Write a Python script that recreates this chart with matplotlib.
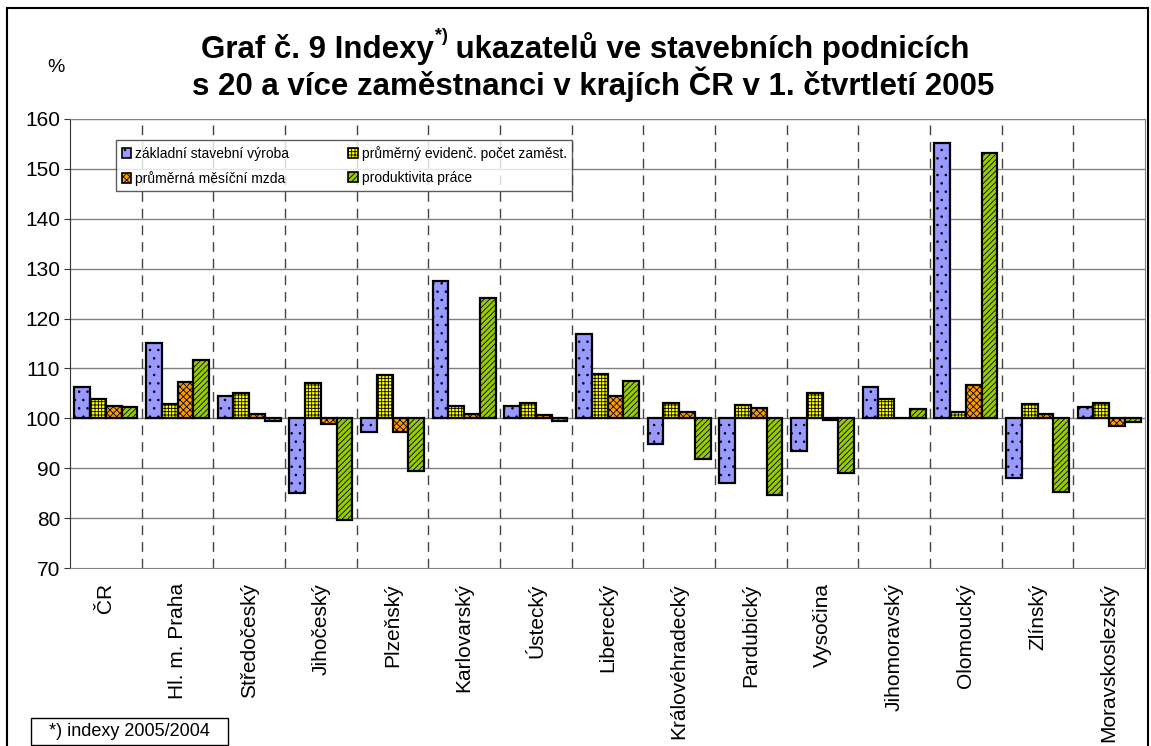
import numpy as np
import matplotlib
matplotlib.use("Agg")
from matplotlib import pyplot as plt
from matplotlib.patches import Rectangle, Patch

plt.rcParams['font.family'] = ['Liberation Sans', 'DejaVu Sans']
plt.rcParams['hatch.linewidth'] = 0.6

regions = ['ČR', 'Hl. m. Praha', 'Středočeský', 'Jihočeský', 'Plzeňský',
           'Karlovarský', 'Ústecký', 'Liberecký', 'Královéhradecký',
           'Pardubický', 'Vysočina', 'Jihomoravský', 'Olomoucký',
           'Zlínský', 'Moravskoslezský']

vyroba = [106.2, 115.0, 104.5, 85.1, 97.3, 127.5, 102.5, 117.0, 94.9,
          87.0, 93.5, 106.2, 155.2, 88.0, 102.3]
zamest = [103.9, 102.8, 105.1, 107.0, 108.7, 102.5, 103.0, 108.8, 103.1,
          102.7, 105.0, 103.9, 101.3, 102.9, 103.1]
mzda = [102.5, 107.2, 100.9, 98.9, 97.2, 100.9, 100.7, 104.5, 101.3,
        102.0, 99.6, 100.0, 106.7, 100.8, 98.5]
produkt = [102.3, 111.6, 99.4, 79.6, 89.5, 124.2, 99.4, 107.4, 91.8,
           84.6, 89.1, 101.9, 153.1, 85.3, 99.2]

series = [vyroba, zamest, mzda, produkt]
names = ['základní stavební výroba', 'průměrná měsíční mzda',
         'průměrný evidenč. počet zaměst.', 'produktivita práce']
colors = ['#9999FF', '#FFFF00', '#FF9900', '#99CC00']
hatches = ['..', '+++++', 'xxxxx', '//////']

fig = plt.figure(figsize=(11.51, 7.46), dpi=100)
W, H = 1151, 746
ax = fig.add_axes([70 / W, 1 - 568 / H, (1145 - 70) / W, (568 - 119) / H])

x = np.arange(len(regions))
w = 0.22
for i, vals in enumerate(series):
    v = np.array(vals)
    ax.bar(x + (i - 1.5) * w, v - 100, bottom=100, width=w, color=colors[i],
           edgecolor='black', linewidth=1.6, hatch=hatches[i], zorder=3)

ax.set_xlim(-0.5, len(regions) - 0.5)
ax.set_ylim(70, 160)
ax.set_yticks(range(70, 161, 10))
ax.tick_params(axis='y', labelsize=15, length=4, pad=3, color='#333333')
ax.set_xticks(x)
ax.set_xticklabels(regions, rotation=90, fontsize=15)
ax.tick_params(axis='x', length=0, pad=11)
ax.set_xticks(np.arange(0.5, len(regions) - 1, 1), minor=True)
ax.tick_params(axis='x', which='minor', direction='in', length=3, color='#555555')

for y in range(80, 161, 10):
    ax.axhline(y, color='#808080', lw=1.0, zorder=1)
for b in np.arange(0.5, len(regions) - 1, 1):
    ax.axvline(b, color='#444444', lw=1.0, ls=(0, (7, 5)), zorder=1)

for s in ['top', 'right', 'bottom']:
    ax.spines[s].set_color('#808080')
ax.spines['left'].set_color('#333333')

handles = [Patch(facecolor=colors[k], edgecolor='black', hatch=hatches[k], lw=1.2)
           for k in [0, 2, 1, 3]]
leg = ax.legend(handles, names, ncol=2, loc='upper left',
                bbox_to_anchor=(46 / 1075, 1 - 21 / 449), fontsize=10,
                frameon=True, fancybox=False, edgecolor='#333333',
                handlelength=0.7, handleheight=0.7, handletextpad=0.3,
                columnspacing=4.2, labelspacing=0.75, borderpad=0.4,
                borderaxespad=0)
leg.get_frame().set_linewidth(1.0)
leg.set_zorder(5)

# title with superscript
fig.canvas.draw()
r = fig.canvas.get_renderer()
tsize = 22.5
p1 = fig.text(0, 0, 'Graf č. 9 Indexy', fontsize=tsize, fontweight='bold', va='baseline')
p2 = fig.text(0, 0, '*)', fontsize=13, fontweight='bold', va='baseline')
p3 = fig.text(0, 0, ' ukazatelů ve stavebních podnicích', fontsize=tsize,
              fontweight='bold', va='baseline')
ws = [t.get_window_extent(r).width / W for t in (p1, p2, p3)]
x0 = 585 / W - sum(ws) / 2
y1 = 1 - 58 / H
p1.set_position((x0, y1))
p2.set_position((x0 + ws[0] + 1 / W, y1 + 17 / H))
p3.set_position((x0 + ws[0] + ws[1], y1))
fig.text(593 / W, 1 - 95 / H, 's 20 a více zaměstnanci v krajích ČR v 1. čtvrtletí 2005',
         fontsize=tsize, fontweight='bold', ha='center', va='baseline')

fig.text(56 / W, 1 - 67 / H, '%', fontsize=14, ha='center', va='center')

# footnote box
fig.patches.append(Rectangle((31 / W, 1 - 745 / H), 197 / W, 27 / H,
                             transform=fig.transFigure, fc='white', ec='black', lw=1.0))
fig.text(129 / W, 1 - 731 / H, '*) indexy 2005/2004', fontsize=13, ha='center', va='center')

fig.patches.append(Rectangle((7 / W, -0.01), 1141 / W, 1 - 8 / H + 0.01,
                             transform=fig.transFigure, fill=False, ec='black', lw=1.5))

fig.savefig('out.png', dpi=100)
